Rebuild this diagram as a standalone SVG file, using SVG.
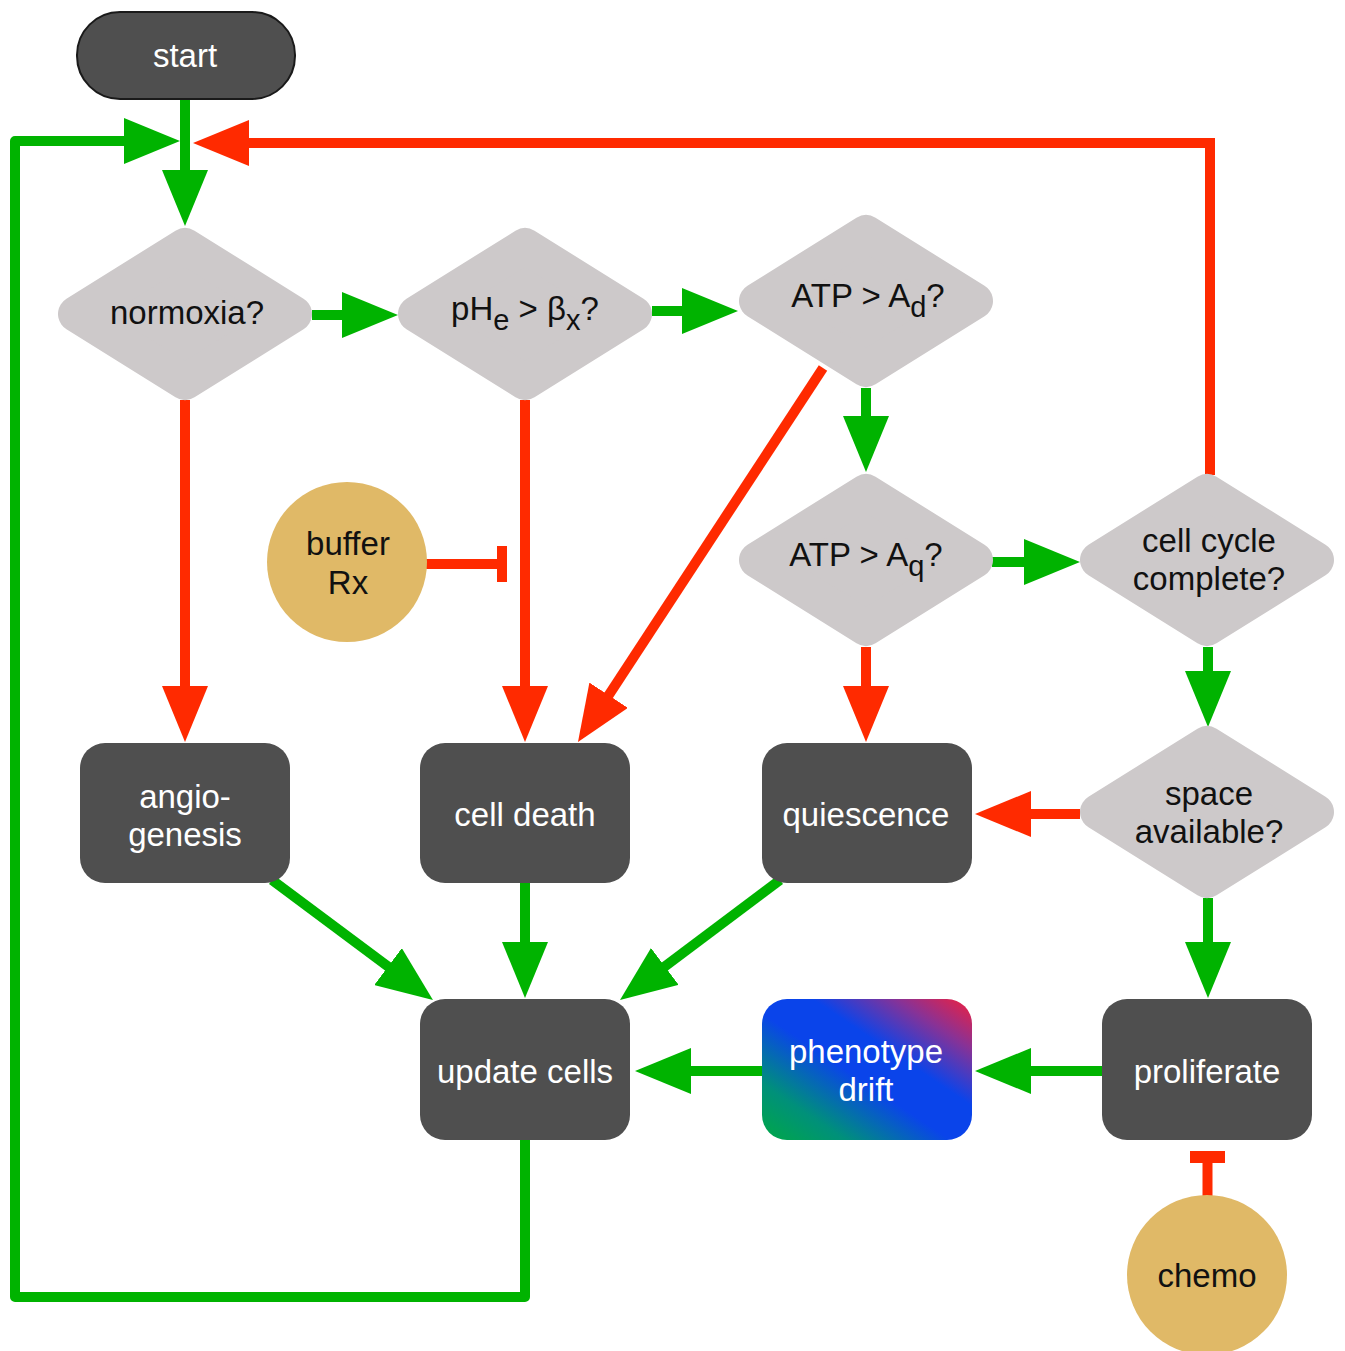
<svg xmlns="http://www.w3.org/2000/svg" width="1345" height="1351" viewBox="0 0 1345 1351">
<style>
  .txt { font-family: "Liberation Sans", Arial, sans-serif; font-size: 33px; text-anchor: middle; }
  .w { fill: #ffffff; }
  .k { fill: #111111; }
  .box { fill: #4f4f4f; }
  .dia { fill: #cdc9ca; stroke: #cdc9ca; stroke-width: 36; stroke-linejoin: round; }
  .circ { fill: #e0b967; }
  .g { fill: none; stroke: #00b300; stroke-width: 10; }
  .r { fill: none; stroke: #ff2a00; stroke-width: 10; }
  .ga { marker-end: url(#ag); }
  .ra { marker-end: url(#ar); }
  .sub { font-size: 29px; }
</style>
<defs>
  <marker id="ag" markerUnits="userSpaceOnUse" markerWidth="56" markerHeight="46" viewBox="0 0 56 46" refX="20" refY="23" orient="auto">
    <path d="M0,0 L56,23 L0,46 Z" fill="#00b300"/>
  </marker>
  <marker id="ar" markerUnits="userSpaceOnUse" markerWidth="56" markerHeight="46" viewBox="0 0 56 46" refX="20" refY="23" orient="auto">
    <path d="M0,0 L56,23 L0,46 Z" fill="#ff2a00"/>
  </marker>
  <linearGradient id="drift" x1="0" y1="1" x2="1" y2="0">
    <stop offset="0" stop-color="#00a846"/>
    <stop offset="0.2" stop-color="#00907a"/>
    <stop offset="0.45" stop-color="#0a44ea"/>
    <stop offset="0.62" stop-color="#0a44ea"/>
    <stop offset="0.82" stop-color="#883296"/>
    <stop offset="1" stop-color="#f0203e"/>
  </linearGradient>
</defs>

<g id="connectors">
  <path class="g" d="M525,1140 V1297 H15 V141 H144" style="stroke-linejoin:round" marker-end="url(#ag)"/>
  <path class="r" d="M1210,475 V143 H229" marker-end="url(#ar)"/>
  <path class="g ga" d="M185,99 V190"/>
  <path class="g ga" d="M312,315 H362"/>
  <path class="g ga" d="M652,311 H702"/>
  <path class="r ra" d="M185,400 V706"/>
  <path class="r ra" d="M525,400 V706"/>
  <path class="r ra" d="M823,368 L597.7,711.9"/>
  <path class="g ga" d="M866,388 V436"/>
  <path class="r ra" d="M866,647 V706"/>
  <path class="g ga" d="M992,562 H1044"/>
  <path class="g ga" d="M1208,647 V691"/>
  <path class="r ra" d="M1080,814 H1011"/>
  <path class="g ga" d="M1208,898 V962"/>
  <path class="g ga" d="M1102,1071 H1011"/>
  <path class="g ga" d="M762,1071 H671"/>
  <path class="g ga" d="M272,880 L404.1,978.5"/>
  <path class="g ga" d="M525,883 V962"/>
  <path class="g ga" d="M780,880 L648.8,978.4"/>
  <path class="r" d="M427,564 H500" style="stroke-linecap:round"/>
  <rect x="497" y="546" width="10" height="36" fill="#ff2a00"/>
  <path class="r" d="M1207.5,1197 V1160" style="stroke-linecap:round"/>
  <rect x="1190" y="1151" width="35" height="12" fill="#ff2a00"/>
</g>

<g id="start">
  <rect x="77" y="12" width="218" height="87" rx="43" ry="43" fill="#4f4f4f" stroke="#1a1a1a" stroke-width="2"/>
  <text class="txt w" x="185" y="67">start</text>
</g>

<g id="normoxia">
  <polygon class="dia" points="76,314 185,246 294,314 185,382"/>
  <text class="txt k" x="187" y="324">normoxia?</text>
</g>

<g id="ph">
  <polygon class="dia" points="416,314 525,246 634,314 525,382"/>
  <text class="txt k" x="525" y="320">pH<tspan class="sub" dy="10">e</tspan><tspan dy="-10"> &gt; β</tspan><tspan class="sub" dy="10">x</tspan><tspan dy="-10">?</tspan></text>
</g>

<g id="atpd">
  <polygon class="dia" points="757,301 866,233 975,301 866,369"/>
  <text class="txt k" x="868" y="307">ATP &gt; A<tspan class="sub" dy="10">d</tspan><tspan dy="-10">?</tspan></text>
</g>

<g id="atpq">
  <polygon class="dia" points="757,560 866,492 975,560 866,628"/>
  <text class="txt k" x="866" y="566">ATP &gt; A<tspan class="sub" dy="10">q</tspan><tspan dy="-10">?</tspan></text>
</g>

<g id="cellcycle">
  <polygon class="dia" points="1098,560 1207,492 1316,560 1207,628"/>
  <text class="txt k" x="1209" y="552">cell cycle</text>
  <text class="txt k" x="1209" y="590">complete?</text>
</g>

<g id="space">
  <polygon class="dia" points="1098,812 1207,744 1316,812 1207,880"/>
  <text class="txt k" x="1209" y="805">space</text>
  <text class="txt k" x="1209" y="843">available?</text>
</g>

<g id="buffer">
  <circle class="circ" cx="347" cy="562" r="80"/>
  <text class="txt k" x="348" y="555">buffer</text>
  <text class="txt k" x="348" y="594">Rx</text>
</g>

<g id="angiogenesis">
  <rect class="box" x="80" y="743" width="210" height="140" rx="25"/>
  <text class="txt w" x="185" y="808">angio-</text>
  <text class="txt w" x="185" y="846">genesis</text>
</g>

<g id="celldeath">
  <rect class="box" x="420" y="743" width="210" height="140" rx="25"/>
  <text class="txt w" x="525" y="826">cell death</text>
</g>

<g id="quiescence">
  <rect class="box" x="762" y="743" width="210" height="140" rx="25"/>
  <text class="txt w" x="866" y="826">quiescence</text>
</g>

<g id="update">
  <rect class="box" x="420" y="999" width="210" height="141" rx="25"/>
  <text class="txt w" x="525" y="1083">update cells</text>
</g>

<g id="drift-node">
  <rect x="762" y="999" width="210" height="141" rx="25" fill="url(#drift)"/>
  <text class="txt w" x="866" y="1063">phenotype</text>
  <text class="txt w" x="866" y="1101">drift</text>
</g>

<g id="proliferate">
  <rect class="box" x="1102" y="999" width="210" height="141" rx="25"/>
  <text class="txt w" x="1207" y="1083">proliferate</text>
</g>

<g id="chemo">
  <circle class="circ" cx="1207" cy="1275" r="80"/>
  <text class="txt k" x="1207" y="1287">chemo</text>
</g>
</svg>
